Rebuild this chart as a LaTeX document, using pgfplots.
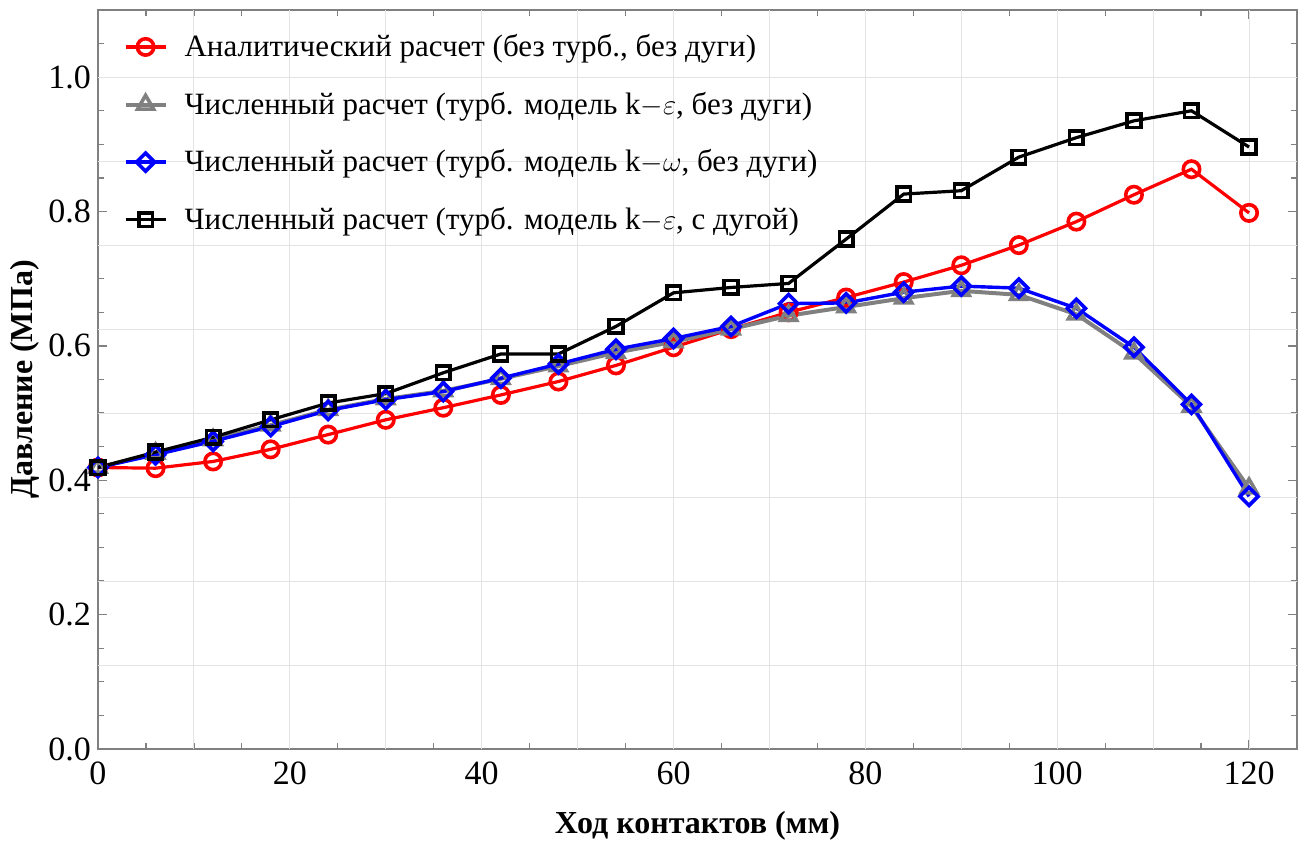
\documentclass[border=0pt]{standalone}
\usepackage{pgfplots}
\pgfplotsset{compat=1.18}
\usepackage{fontspec}
\setmainfont{Liberation Serif}
\definecolor{gridc}{RGB}{228,228,228}
\definecolor{axc}{RGB}{128,128,128}
\begin{document}
\begin{tikzpicture}
\begin{axis}[
  scale only axis, width=599.5pt, height=369.5pt,
  xmin=0, xmax=125, ymin=0, ymax=1.1,
  xtick={0,20,...,120},
  ytick={0,0.2,0.4,0.6,0.8,1.0},
  minor xtick={0,5,...,125},
  minor ytick={0.05,0.1,0.15,0.25,0.3,0.35,0.45,0.5,0.55,0.65,0.7,0.75,0.85,0.9,0.95,1.05},
  extra x ticks={10,20,30,40,50,60,70,80,90,100,110,120},
  extra x tick labels={},
  extra x tick style={grid=major, major tick length=0pt},
  extra y ticks={0.125,0.25,0.375,0.5,0.625,0.75,0.875,1.0},
  extra y tick labels={},
  extra y tick style={grid=major, major tick length=0pt},
  major grid style={gridc, line width=0.5pt},
  tick align=inside,
  major tick length=4.5pt, minor tick length=2.8pt,
  every tick/.style={axc, line width=0.6pt},
  axis line style={axc, line width=0.85pt},
  /pgf/number format/assume math mode=true,
  tick label style={font=\fontsize{17}{17}\selectfont},
  yticklabel style={/pgf/number format/.cd, fixed, fixed zerofill, precision=1},
  xticklabel style={yshift=-3pt, /pgf/number format/.cd, fixed, precision=0},
  xlabel={Ход контактов (мм)},
  ylabel={Давление (МПа)},
  label style={font=\fontsize{16}{16}\selectfont\bfseries},
  xlabel style={at={(axis description cs:0.5,0)}, anchor=center, yshift=-38.5pt},
  ylabel style={at={(axis description cs:0,0.5)}, anchor=center, rotate=0, yshift=36.5pt},
  legend style={at={(axis description cs:0.021,0.973)}, anchor=north west, draw=none, fill=none,
    font=\fontsize{15.5}{15.5}\selectfont, row sep=12.2pt, inner sep=0pt,
    nodes={inner sep=2pt},
    /tikz/every odd column/.append style={column sep=6.5pt}},
  legend cell align=left,
  legend image code/.code={\draw[mark repeat=2,mark phase=2] plot coordinates {(0pt,0pt) (10pt,0pt) (20pt,0pt)};},
]
\addplot[red, line width=1.6pt, mark=o, mark size=4.1pt, mark options={fill=white, line width=1.8pt}] coordinates {
(0,0.419)(6,0.418)(12,0.428)(18,0.446)(24,0.468)(30,0.490)(36,0.508)(42,0.527)(48,0.547)(54,0.571)(60,0.598)(66,0.625)(72,0.650)(78,0.672)(84,0.695)(90,0.720)(96,0.750)(102,0.785)(108,0.825)(114,0.863)(120,0.798)};
\addlegendentry{Аналитический расчет (без турб., без дуги)}
\addplot[axc, line width=2pt, mark=triangle, mark size=4.6pt, mark options={fill=white, line width=1.8pt}] coordinates {
(0,0.419)(6,0.440)(12,0.460)(18,0.482)(24,0.505)(30,0.521)(36,0.533)(42,0.551)(48,0.570)(54,0.590)(60,0.606)(66,0.625)(72,0.645)(78,0.658)(84,0.671)(90,0.682)(96,0.676)(102,0.647)(108,0.589)(114,0.510)(120,0.388)};
\addlegendentry{Численный расчет (турб. модель k$-\varepsilon$, без дуги)}
\addplot[blue, line width=1.7pt, mark=square, mark size=3.2pt, mark options={fill=white, line width=1.8pt, rotate=45}] coordinates {
(0,0.419)(6,0.438)(12,0.458)(18,0.480)(24,0.504)(30,0.520)(36,0.532)(42,0.552)(48,0.573)(54,0.595)(60,0.611)(66,0.629)(72,0.663)(78,0.664)(84,0.680)(90,0.689)(96,0.686)(102,0.656)(108,0.598)(114,0.513)(120,0.376)};
\addlegendentry{Численный расчет (турб. модель k$-\omega$, без дуги)}
\addplot[black, line width=1.6pt, mark=square, mark size=3.4pt, mark options={fill=white, line width=1.8pt}] coordinates {
(0,0.419)(6,0.442)(12,0.464)(18,0.490)(24,0.515)(30,0.529)(36,0.560)(42,0.588)(48,0.588)(54,0.629)(60,0.679)(66,0.687)(72,0.693)(78,0.759)(84,0.826)(90,0.831)(96,0.881)(102,0.910)(108,0.935)(114,0.950)(120,0.896)};
\addlegendentry{Численный расчет (турб. модель k$-\varepsilon$, с дугой)}
\end{axis}
\pgfresetboundingbox
\path[use as bounding box] ([xshift=-49pt,yshift=-46pt]current axis.south west) rectangle ([xshift=6pt,yshift=5pt]current axis.north east);
\end{tikzpicture}
\end{document}
